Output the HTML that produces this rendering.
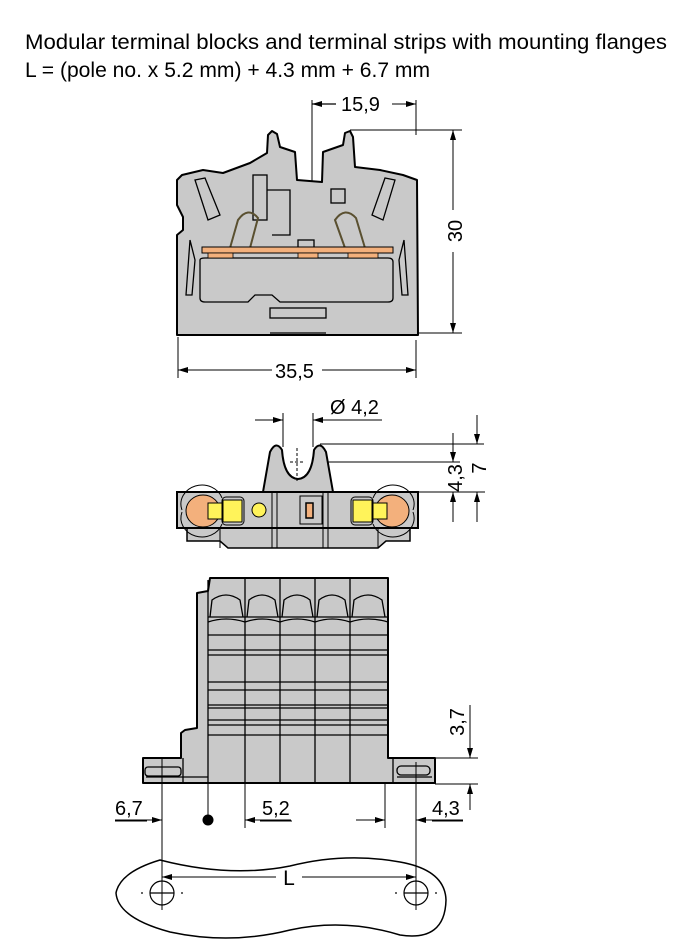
<!DOCTYPE html>
<html><head><meta charset="utf-8"><style>
html,body{margin:0;padding:0;background:#fff;}
svg{display:block}
text{font-family:"Liberation Sans",sans-serif;fill:#000}
</style></head><body>
<svg width="697" height="951" viewBox="0 0 697 951" xmlns="http://www.w3.org/2000/svg">
<defs>
<marker id="a" viewBox="0 0 10 6" refX="10" refY="3" markerWidth="10" markerHeight="6" markerUnits="userSpaceOnUse" orient="auto"><path d="M0,0 L10,3 L0,6 Z" fill="#000"/></marker>
</defs>
<text x="25" y="49" font-size="21" textLength="642" lengthAdjust="spacingAndGlyphs">Modular terminal blocks and terminal strips with mounting flanges</text>
<text x="25" y="77" font-size="21" textLength="405" lengthAdjust="spacingAndGlyphs">L = (pole no. x 5.2 mm) + 4.3 mm + 6.7 mm</text>

<!-- TOP VIEW -->
<g stroke="#000" stroke-width="1">
<line x1="312" y1="100" x2="312" y2="185"/>
<line x1="416" y1="100" x2="416" y2="135"/>
<line x1="312" y1="104" x2="336" y2="104" marker-start="url(#a)" stroke-width="1.2" style="marker-start:none"/>
<line x1="336" y1="104" x2="312" y2="104" marker-end="url(#a)"/>
<line x1="392" y1="104" x2="416" y2="104" marker-end="url(#a)"/>
<line x1="350" y1="130" x2="462" y2="130"/>
<line x1="418" y1="333" x2="462" y2="333"/>
<line x1="453" y1="210" x2="453" y2="130" marker-end="url(#a)"/>
<line x1="453" y1="252" x2="453" y2="333" marker-end="url(#a)"/>
<line x1="178" y1="337" x2="178" y2="378"/>
<line x1="416" y1="340" x2="416" y2="378"/>
<line x1="272" y1="370" x2="178" y2="370" marker-end="url(#a)"/>
<line x1="322" y1="370" x2="416" y2="370" marker-end="url(#a)"/>
</g>
<text x="341" y="111" font-size="20">15,9</text>
<text x="275" y="378" font-size="20">35,5</text>
<text font-size="20" transform="translate(462,231) rotate(-90)" text-anchor="middle">30</text>

<path d="M177,335 L177,235 L183,230 L183,217 L177,205 L177,180 L182,175 L203,170 L223,173 L250,163 L267,153 L268,135 L272,131 L277,134 L280,147 L295,152 L297,180 L322,182 L323,152 L343,145 L345,133 L350,131 L353,137 L355,167 L380,170 L403,175 L417,180 L418,335 Z" fill="#c9c9c9" stroke="#000" stroke-width="2" stroke-linejoin="round"/>
<g fill="none" stroke="#000" stroke-width="1.3">
<path d="M195,180 L205,178 L220,215 L208,220 Z"/>
<path d="M395,180 L385,178 L372,215 L383,220 Z"/>
<rect x="253" y="175" width="14" height="45"/>
<path d="M267,190 L290,190 L290,235 L272,235"/>
<rect x="331" y="189" width="14" height="14"/>
<path d="M190,240 L195,260 L192,295 L186,295 Z"/>
<path d="M404,240 L399,260 L402,295 L408,295 Z"/>
<path d="M230,248 L238,220 Q248,206 258,218 L250,248" stroke="#5a5030" stroke-width="2"/>
<path d="M345,248 L335,220 Q345,206 356,218 L365,248" stroke="#5a5030" stroke-width="2"/>
<path d="M200,260 Q200,258 205,258 L388,258 Q393,258 393,262 L393,298 Q393,302 388,302 L280,302 L272,295 L255,295 L248,302 L205,302 Q200,302 200,298 Z"/>
<rect x="270" y="308" width="56" height="10"/>
<line x1="270" y1="333" x2="326" y2="333"/>
<rect x="298" y="240" width="16" height="9"/>
</g>
<rect x="202" y="247" width="191" height="6" fill="#f3b07c" stroke="#000" stroke-width="1"/>
<g fill="#f3b07c" stroke="#000" stroke-width="0.8">
<rect x="208" y="253" width="25" height="5"/><rect x="298" y="253" width="20" height="5"/><rect x="348" y="253" width="30" height="5"/>
</g>

<!-- MIDDLE VIEW -->
<g stroke="#000" stroke-width="1">
<line x1="283" y1="413" x2="283" y2="447"/>
<line x1="313" y1="413" x2="313" y2="447"/>
<line x1="255" y1="420" x2="283" y2="420" marker-end="url(#a)"/>
<line x1="382" y1="420" x2="313" y2="420" marker-end="url(#a)"/>
<line x1="320" y1="444" x2="484" y2="444"/>
<line x1="320" y1="462" x2="460" y2="462"/>
<line x1="415" y1="492" x2="485" y2="492"/>
<line x1="477" y1="415" x2="477" y2="444" marker-end="url(#a)"/>
<line x1="453" y1="433" x2="453" y2="462" marker-end="url(#a)"/>
<line x1="453" y1="522" x2="453" y2="492" marker-end="url(#a)"/>
<line x1="477" y1="522" x2="477" y2="492" marker-end="url(#a)"/>
</g>
<text x="330" y="414" font-size="20">Ø 4,2</text>
<text font-size="20" transform="translate(462,478) rotate(-90)" text-anchor="middle">4,3</text>
<text font-size="20" transform="translate(486,468) rotate(-90)" text-anchor="middle">7</text>

<path d="M187,528 L187,541 L220,541 L228,548 L378,548 L386,541 L410,541 L410,528 Z" fill="#c9c9c9" stroke="#000" stroke-width="1.5"/>
<path d="M263,492 L270,452 Q276,440 282,450 Q284,478 298,479 Q312,478 314,450 Q320,440 326,452 L333,492 Z" fill="#c9c9c9" stroke="#000" stroke-width="2"/>
<line x1="297" y1="448" x2="297" y2="482" stroke="#000" stroke-dasharray="3,2"/>
<line x1="290" y1="462" x2="304" y2="462" stroke="#000" stroke-dasharray="3,2"/>
<rect x="177" y="492" width="241" height="36" fill="#c9c9c9" stroke="#000" stroke-width="2"/>
<g stroke="#000" stroke-width="1" fill="none">
<line x1="272" y1="492" x2="272" y2="548"/><line x1="277" y1="492" x2="277" y2="548"/>
<line x1="323" y1="492" x2="323" y2="548"/><line x1="328" y1="492" x2="328" y2="548"/>
<line x1="220" y1="528" x2="220" y2="548"/><line x1="378" y1="528" x2="378" y2="548"/>
<path d="M182,510 A20,18 0 0 1 222,498"/><path d="M182,512 A20,18 0 0 0 222,524"/>
<path d="M413,510 A20,18 0 0 0 373,498"/><path d="M413,512 A20,18 0 0 1 373,524"/>
<rect x="222" y="497" width="22" height="28" rx="4"/>
<rect x="351" y="497" width="22" height="28" rx="4"/>
<rect x="300" y="496" width="22" height="28"/>
</g>
<ellipse cx="203" cy="511" rx="17" ry="16" fill="#f3b07c" stroke="#000"/>
<ellipse cx="392" cy="511" rx="17" ry="16" fill="#f3b07c" stroke="#000"/>
<rect x="208" y="503" width="14" height="16" fill="#fff35a" stroke="#000"/>
<rect x="223" y="500" width="19" height="22" fill="#fff35a" stroke="#000"/>
<rect x="373" y="503" width="14" height="16" fill="#fff35a" stroke="#000"/>
<rect x="353" y="500" width="19" height="22" fill="#fff35a" stroke="#000"/>
<circle cx="259" cy="510" r="7" fill="#fff35a" stroke="#000"/>
<rect x="306" y="503" width="7" height="15" fill="#f3b07c" stroke="#000" stroke-width="1.5"/>

<!-- BOTTOM VIEW -->
<path d="M143,758 L181,758 L181,733 L185,730 L197,728 L197,593 L208,591 L210,578 L388,578 L388,758 L435,758 L435,783 L143,783 Z" fill="#c9c9c9" stroke="#000" stroke-width="2" stroke-linejoin="round"/>
<g stroke="#000" stroke-width="1.3" fill="none">
<line x1="208" y1="580" x2="208" y2="783"/>
<line x1="245" y1="578" x2="245" y2="783"/><line x1="280" y1="578" x2="280" y2="783"/>
<line x1="315" y1="578" x2="315" y2="783"/><line x1="350" y1="578" x2="350" y2="783"/>
<line x1="208" y1="617" x2="388" y2="617"/><line x1="208" y1="635" x2="388" y2="635"/>
<line x1="208" y1="650" x2="388" y2="650"/><line x1="208" y1="655" x2="388" y2="655"/>
<line x1="208" y1="682" x2="388" y2="682"/><line x1="208" y1="690" x2="388" y2="690"/>
<line x1="208" y1="705" x2="388" y2="705"/><line x1="208" y1="708" x2="388" y2="708"/>
<line x1="208" y1="720" x2="388" y2="720"/><line x1="208" y1="725" x2="388" y2="725"/>
<line x1="208" y1="735" x2="388" y2="735"/>
<path d="M210,617 L212,600 Q226,590 240,600 L243,617"/>
<path d="M247,617 L249,600 Q262,590 275,600 L278,617"/>
<path d="M282,617 L284,600 Q297,590 310,600 L313,617"/>
<path d="M317,617 L319,600 Q332,590 345,600 L348,617"/>
<path d="M352,617 L354,600 Q368,590 382,600 L385,617"/>
<path d="M208,622 Q226,616 245,622 Q262,616 280,622 Q297,616 315,622 Q332,616 350,622 Q368,616 388,622"/>
<line x1="183" y1="758" x2="183" y2="783"/>
<line x1="146" y1="777" x2="208" y2="777"/>
<rect x="145" y="767" width="36" height="9" rx="3"/>
<rect x="397" y="766" width="33" height="9" rx="4"/>
<line x1="393" y1="758" x2="393" y2="783"/>
<line x1="397" y1="777" x2="432" y2="777"/>
</g>
<g stroke="#000" stroke-width="1">
<line x1="435" y1="758" x2="478" y2="758"/>
<line x1="435" y1="784" x2="478" y2="784"/>
<line x1="470" y1="705" x2="470" y2="758" marker-end="url(#a)"/>
<line x1="470" y1="810" x2="470" y2="784" marker-end="url(#a)"/>
<line x1="162" y1="758" x2="162" y2="910"/>
<line x1="416" y1="762" x2="416" y2="910"/>
<line x1="208" y1="783" x2="208" y2="820"/>
<line x1="245" y1="783" x2="245" y2="828"/>
<line x1="385" y1="783" x2="385" y2="828"/>
<line x1="115" y1="820" x2="162" y2="820" marker-end="url(#a)"/>
<line x1="291" y1="820" x2="245" y2="820" marker-end="url(#a)"/>
<line x1="356" y1="820" x2="385" y2="820" marker-end="url(#a)"/>
<line x1="463" y1="820" x2="416" y2="820" marker-end="url(#a)"/>
<line x1="115" y1="821" x2="147" y2="821"/>
<line x1="260" y1="821" x2="292" y2="821"/>
<line x1="432" y1="821" x2="463" y2="821"/>
</g>
<circle cx="208" cy="820" r="5.5" fill="#000"/>
<text x="115" y="815" font-size="20">6,7</text>
<text x="262" y="815" font-size="20">5,2</text>
<text x="432" y="815" font-size="20">4,3</text>
<text font-size="20" transform="translate(464,722) rotate(-90)" text-anchor="middle">3,7</text>

<path d="M160,860 Q120,872 116,893 Q118,918 170,932 Q230,945 290,930 Q345,918 400,935 Q445,942 446,900 Q445,870 400,862 Q345,852 290,866 Q230,878 160,860 Z" fill="none" stroke="#000" stroke-width="1.5"/>
<g stroke="#000" stroke-width="1.2" fill="none">
<circle cx="162" cy="893" r="12"/><circle cx="416" cy="893" r="12"/>
<line x1="150" y1="893" x2="174" y2="893"/><line x1="404" y1="893" x2="428" y2="893"/>
<line x1="141" y1="893" x2="143" y2="893"/><line x1="181" y1="893" x2="183" y2="893"/>
<line x1="395" y1="893" x2="397" y2="893"/><line x1="435" y1="893" x2="437" y2="893"/>
</g>
<g stroke="#000" stroke-width="1">
<line x1="276" y1="877" x2="162" y2="877" marker-end="url(#a)"/>
<line x1="302" y1="877" x2="416" y2="877" marker-end="url(#a)"/>
</g>
<text x="289" y="885" font-size="21" text-anchor="middle">L</text>
</svg>
</body></html>
